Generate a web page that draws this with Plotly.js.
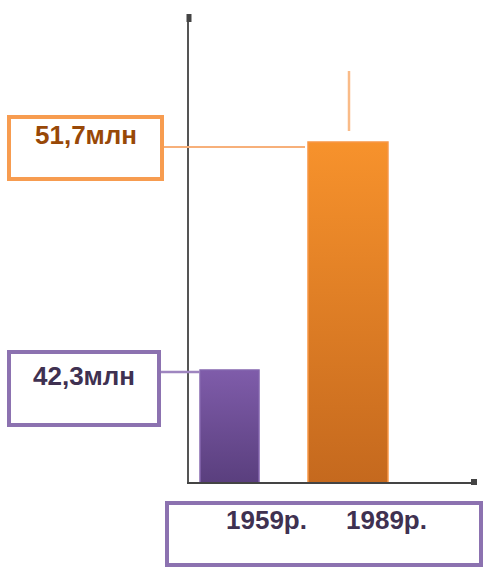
<!DOCTYPE html>
<html><head><meta charset="utf-8">
<script src="https://cdn.plot.ly/plotly-3.0.1.min.js"></script>
<style>html,body{margin:0;padding:0;background:#fff;}#chart{width:483px;height:568px;}</style>
</head><body><div id="chart"></div>
<script>
const categories = ['1959р.', '1989р.'];
const values = [42.3, 51.7];
const valueLabels = ['42,3млн', '51,7млн'];

const W = 483, H = 568, L = 189, R = 6, T = 15, B = 86;
const pw = W - L - R, ph = H - T - B;
const px = x => (x - L) / pw;
const py = y => (H - B - y) / ph;

const trace = {
  type: 'bar',
  x: [0, 1],
  y: values,
  width: [0.498, 0.675],
  marker: {color: ['#6E4F96', '#E07A24'], line: {color: ['#8466AE', '#F79646'], width: 1.5}},
  hoverinfo: 'none'
};

const shapes = [
  {type:'rect', xref:'paper', yref:'paper', x0:px(9), x1:px(162), y0:py(117), y1:py(179), line:{color:'#F79C50', width:4}},
  {type:'rect', xref:'paper', yref:'paper', x0:px(9), x1:px(159), y0:py(352), y1:py(425), line:{color:'#8C72B0', width:4}},
  {type:'rect', xref:'paper', yref:'paper', x0:px(167), x1:px(481), y0:py(503), y1:py(565), line:{color:'#8C72B0', width:4}},
  {type:'line', xref:'paper', yref:'paper', x0:px(164), x1:px(305), y0:py(147), y1:py(147), line:{color:'#F7B07A', width:2}},
  {type:'line', xref:'paper', yref:'paper', x0:px(161), x1:px(200), y0:py(372), y1:py(372), line:{color:'#9F86C0', width:2.5}},
  {type:'line', xref:'paper', yref:'paper', x0:px(349), x1:px(349), y0:py(71), y1:py(131), line:{color:'#F9BB88', width:2.5}},
  {type:'rect', xref:'paper', yref:'paper', x0:px(186.5), x1:px(191.5), y0:py(14), y1:py(22), fillcolor:'#444', line:{width:0}},
  {type:'rect', xref:'paper', yref:'paper', x0:px(471), x1:px(477), y0:py(479), y1:py(485), fillcolor:'#444', line:{width:0}}
];

const F = 26;
const annotations = [
  {xref:'paper', yref:'paper', x:px(86), y:py(135), text:'<b>'+valueLabels[1]+'</b>', showarrow:false, xanchor:'center', yanchor:'middle', font:{family:'Liberation Sans', size:F, color:'#984807'}},
  {xref:'paper', yref:'paper', x:px(84), y:py(376), text:'<b>'+valueLabels[0]+'</b>', showarrow:false, xanchor:'center', yanchor:'middle', font:{family:'Liberation Sans', size:F, color:'#3F3151'}},
  {xref:'paper', yref:'paper', x:px(266), y:py(520), text:'<b>'+categories[0]+'</b>', showarrow:false, xanchor:'center', yanchor:'middle', font:{family:'Liberation Sans', size:F, color:'#3F3151'}},
  {xref:'paper', yref:'paper', x:px(386), y:py(520), text:'<b>'+categories[1]+'</b>', showarrow:false, xanchor:'center', yanchor:'middle', font:{family:'Liberation Sans', size:F, color:'#3F3151'}}
];

const layout = {
  width: W, height: H,
  margin: {l: L, r: R, t: T, b: B, pad: 0},
  paper_bgcolor: '#fff', plot_bgcolor: '#fff',
  showlegend: false,
  xaxis: {range: [-0.342, 2.089], showticklabels: false, ticks: '', showgrid: false, zeroline: false,
          showline: true, linecolor: '#444', linewidth: 2, fixedrange: true},
  yaxis: {range: [37.68, 56.94], showticklabels: false, ticks: '', showgrid: false, zeroline: false,
          showline: true, linecolor: '#555', linewidth: 2, fixedrange: true},
  shapes: shapes,
  annotations: annotations
};

Plotly.newPlot('chart', [trace], layout, {staticPlot: true}).then(gd => {
  const svg = gd.querySelector('svg.main-svg');
  const ns = 'http://www.w3.org/2000/svg';
  let defs = svg.querySelector('defs');
  if (!defs) { defs = document.createElementNS(ns, 'defs'); svg.insertBefore(defs, svg.firstChild); }
  const grads = [['gP', '#7F5CAA', '#5A3F7E'], ['gO', '#F7922C', '#C5691E']];
  grads.forEach(([id, c1, c2]) => {
    const g = document.createElementNS(ns, 'linearGradient');
    g.setAttribute('id', id);
    [[0, c1], [1, c2]].forEach(([o, c]) => {
      const s = document.createElementNS(ns, 'stop');
      s.setAttribute('offset', o); s.setAttribute('stop-color', c);
      g.appendChild(s);
    });
    defs.appendChild(g);
  });
  const paths = gd.querySelectorAll('.barlayer .point path');
  paths.forEach((p, i) => {
    const g = defs.querySelector('#' + grads[i][0]);
    const bb = p.getBBox();
    g.setAttribute('gradientUnits', 'userSpaceOnUse');
    g.setAttribute('x1', 0); g.setAttribute('x2', 0);
    g.setAttribute('y1', bb.y); g.setAttribute('y2', Math.min(bb.y + bb.height, ph));
    p.style.fill = 'url(#' + grads[i][0] + ')';
  });
});
</script>
</body></html>
